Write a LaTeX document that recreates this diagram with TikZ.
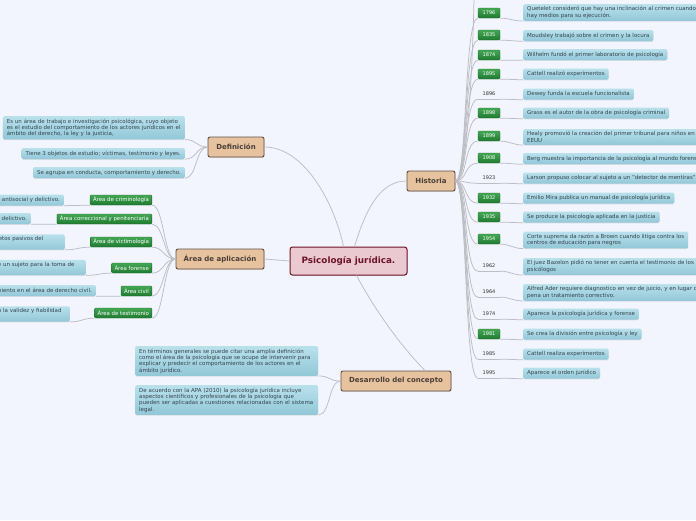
\documentclass[tikz,border=0pt]{standalone}
\usepackage{fontspec}
\setmainfont{DejaVu Sans}
\usetikzlibrary{shadows}
\definecolor{bgc}{HTML}{F2F5FD}
\definecolor{leafT}{HTML}{B9E1EC}
\definecolor{leafB}{HTML}{92C7D7}
\definecolor{leafX}{HTML}{34444F}
\definecolor{grT}{HTML}{45A856}
\definecolor{grB}{HTML}{1F7A30}
\definecolor{grD}{HTML}{1A6A28}
\definecolor{topF}{HTML}{E6C29E}
\definecolor{topD}{HTML}{5E5046}
\definecolor{topX}{HTML}{4A3F38}
\definecolor{cenF}{HTML}{EBC9D1}
\definecolor{cenD}{HTML}{6E1326}
\definecolor{lineC}{HTML}{BDBDC4}
\newcommand\lfnt{\fontsize{5.5}{6.4}\selectfont}
\newcommand\gfnt{\fontsize{5.4}{6}\selectfont}
\begin{document}
\begin{tikzpicture}[x=1pt,y=-1pt,
  central/.style={draw=cenD, line width=1pt, fill=cenF, rounded corners=2.5pt,
    font=\fontsize{8.8}{10}\selectfont\bfseries, text=cenD, minimum width=117pt,
    minimum height=28pt, inner sep=0pt,
    drop shadow={shadow xshift=0.6pt, shadow yshift=-0.8pt, opacity=0.25}},
  topic/.style={draw=topD, line width=0.9pt, fill=topF, rounded corners=2pt,
    font=\fontsize{7}{8}\selectfont\bfseries, text=topX, minimum height=20pt,
    inner sep=0pt,
    drop shadow={shadow xshift=0.6pt, shadow yshift=-0.8pt, opacity=0.25}},
  leaf/.style={top color=leafT, bottom color=leafB, rounded corners=1.5pt,
    font=\lfnt, text=leafX, inner xsep=4pt, inner ysep=2.4pt, minimum height=11pt,
    align=left,
    drop shadow={shadow xshift=0pt, shadow yshift=-0.8pt, opacity=0.2}},
  green/.style={top color=grT, bottom color=grB, draw=grD, line width=0.3pt,
    rounded corners=1pt, font=\gfnt, text=white, minimum height=10pt,
    inner xsep=3pt, inner ysep=0pt},
  datebox/.style={green, minimum width=22pt, inner xsep=0pt, font=\fontsize{5}{6}\selectfont},
  plaindate/.style={font=\fontsize{5}{6}\selectfont, text=black!80, minimum width=22pt,
    minimum height=10pt, inner sep=0pt},
  conn/.style={draw=lineC, line width=0.75pt}
]
\useasboundingbox (0,0) rectangle (696,520);
\fill[bgc] (0,0) rectangle (696,520);
\clip (0,0) rectangle (696,520);

% main nodes
\node[central] (c) at (348.5,261) {Psicología jurídica.};
\node[topic, minimum width=56pt] (def) at (236,147) {Definición};
\node[topic, minimum width=88pt] (apl) at (220,259) {Área de aplicación};
\node[topic, minimum width=48pt] (hist) at (431,181) {Historia};
\node[topic, minimum width=110pt] (des) at (396,381) {Desarrollo del concepto};

% Definicion leaves
\node[leaf, text width=174pt, anchor=north east] (df1) at (185,116)
  {Es un área de trabajo e investigación psicológica, cuyo objeto\\es el estudio del comportamiento de los actores jurídicos en el\\ámbito del derecho, la ley y la justicia,};
\node[leaf, anchor=east] (df2) at (185,153.5) {Tiene 3 objetos de estudio; víctimas, testimonio y leyes.};
\node[leaf, anchor=east] (df3) at (185,172.5) {Se agrupa en conducta, comportamiento y derecho.};

% Area de aplicacion
\node[green, anchor=east] (g1) at (152,200) {Área de criminología};
\node[green, anchor=east] (g2) at (152,219) {Área correccional y penitenciaria};
\node[green, anchor=east] (g3) at (152,242) {Área de victimología};
\node[green, anchor=east] (g4) at (152,268) {Área forense};
\node[green, anchor=east] (g5) at (152,291) {Área civil};
\node[green, anchor=east] (g6) at (152,313) {Área de testimonio};
\node[leaf, anchor=east] (a1) at (64,200) {n antisocial y delictivo.};
\node[leaf, anchor=east] (a2) at (31,218.5) {o delictivo.};
\node[leaf, anchor=east, text width=62pt] (a3) at (65,242) {etos pasivos del\\\mbox{}};
\node[leaf, anchor=east, text width=84pt] (a4) at (86,267.5) {e un sujeto para la toma de\\\mbox{}};
\node[leaf, anchor=east] (a5) at (96,290.5) {miento en el área de derecho civil.};
\node[leaf, anchor=east, text width=68pt] (a6) at (70,314) {n la validez y fiabilidad\\\mbox{}};

% Desarrollo leaves
\node[leaf, text width=175pt, anchor=north west] (ds1) at (135,346)
  {En términos generales se puede citar una amplia definición\\como el área de la psicología que se ocupe de intervenir para\\explicar y predecir el comportamiento de los actores en el\\ámbito jurídico.};
\node[leaf, text width=175pt, anchor=north west] (ds2) at (135,385)
  {De acuerdo con la APA (2010) la psicología jurídica incluye\\aspectos científicos y profesionales de la psicología que\\pueden ser aplicadas a cuestiones relacionadas con el sistema\\legal.};

% Historia dates
\node[datebox] (d1) at (489,13) {1796};
\node[datebox] (d2) at (489,35) {1835};
\node[datebox] (d3) at (489,55) {1874};
\node[datebox] (d4) at (489,74) {1895};
\node[plaindate] (d5) at (489,94) {1896};
\node[datebox] (d6) at (489,113) {1898};
\node[datebox] (d7) at (489,136) {1899};
\node[datebox] (d8) at (489,158) {1908};
\node[plaindate] (d9) at (489,178) {1923};
\node[datebox] (d10) at (489,198) {1932};
\node[datebox] (d11) at (489,217) {1935};
\node[datebox] (d12) at (489,239) {1954};
\node[plaindate] (d13) at (489,266) {1962};
\node[plaindate] (d14) at (489,292) {1964};
\node[plaindate] (d15) at (489,314) {1974};
\node[datebox] (d16) at (489,334) {1981};
\node[plaindate] (d17) at (489,354) {1985};
\node[plaindate] (d18) at (489,373) {1995};

% Historia leaves
\node[leaf, anchor=west] (h1) at (523,12.5) {Quetelet consideró que hay una inclinación al crimen cuando\\hay medios para su ejecución.};
\node[leaf, anchor=west] (h2) at (523,35.5) {Moudsley trabajó sobre el crimen y la locura};
\node[leaf, anchor=west] (h3) at (523,54.5) {Wilhelm fundó el primer laboratorio de psicología};
\node[leaf, anchor=west] (h4) at (523,74) {Cattell realizó experimentos};
\node[leaf, anchor=west] (h5) at (523,94) {Dewey funda la escuela funcionalista};
\node[leaf, anchor=west] (h6) at (523,113) {Grass es el autor de la obra de psicología criminal};
\node[leaf, anchor=west] (h7) at (523,137) {Healy promovió la creación del primer tribunal para niños en\\EEUU};
\node[leaf, anchor=west] (h8) at (523,158.5) {Berg muestra la importancia de la psicología al mundo forense};
\node[leaf, anchor=west] (h9) at (523,178) {Larson propuso colocar al sujeto a un "detector de mentiras"};
\node[leaf, anchor=west] (h10) at (523,198) {Emilio Mira publica un manual de psicología jurídica};
\node[leaf, anchor=west] (h11) at (523,217) {Se produce la psicología aplicada en la justicia};
\node[leaf, anchor=west] (h12) at (523,240) {Corte suprema da razón a Brown cuando litiga contra los\\centros de educación para negros};
\node[leaf, anchor=west] (h13) at (523,266.5) {El juez Bazelon pidió no tener en cuenta el testimonio de los\\psicólogos};
\node[leaf, anchor=west] (h14) at (523,292.5) {Alfred Ader requiere diagnostico en vez de juicio, y en lugar de\\pena un tratamiento correctivo.};
\node[leaf, anchor=west] (h15) at (523,314) {Aparece la psicología jurídica y forense};
\node[leaf, anchor=west] (h16) at (523,334) {Se crea la división entre psicología y ley};
\node[leaf, anchor=west] (h17) at (523,354) {Cattell realiza experimentos};
\node[leaf, anchor=west] (h18) at (523,373) {Aparece el orden jurídico};

\coordinate (htop) at (474,-6);

% connectors: main
\draw[conn] (def.east) .. controls (305,147) and (335,205) .. ([xshift=-5pt]c.north);
\draw[conn] ([xshift=6pt]c.north) .. controls (367,205) and (382,181) .. (hist.west);
\draw[conn] (c.west) -- (apl.east);
\draw[conn] ([xshift=8pt]c.south) .. controls (375,310) and (400,345) .. ([xshift=29pt]des.north);

% Definicion
\foreach \n in {df1,df2,df3}
  \draw[conn] (def.west) .. controls +(-12,0) and +(12,0) .. (\n.south east);

% Area
\foreach \i in {1,...,6} {
  \draw[conn] (apl.west) .. controls +(-12,0) and +(12,0) .. (g\i.south east);
  \draw[conn] (g\i.south west) .. controls +(-12,0) and +(12,0) .. (a\i.south east);
}

% Desarrollo
\foreach \n in {ds1,ds2}
  \draw[conn] (des.west) .. controls +(-12,0) and +(12,0) .. (\n.south east);

% Historia
\draw[conn] (hist.east) .. controls +(14,0) and +(0,20) .. (htop);
\foreach \i in {1,...,18} {
  \draw[conn] (hist.east) .. controls +(12,0) and +(-14,0) .. (d\i.south west);
  \draw[conn] (d\i.south east) .. controls +(10,0) and +(-10,0) .. (h\i.south west);
}
\foreach \i in {5,9,13,14,15,17,18}
  \draw[conn] (d\i.south west) -- (d\i.south east);
\end{tikzpicture}
\end{document}
